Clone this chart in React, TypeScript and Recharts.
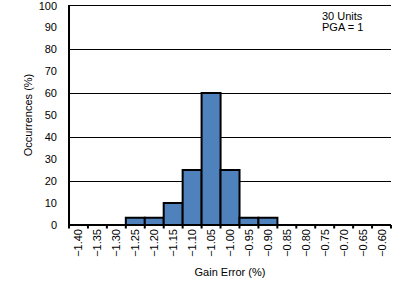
import { Bar, BarChart, CartesianGrid, XAxis, YAxis } from "recharts"

const gainError = [
  "−1.40", "−1.35", "−1.30", "−1.25", "−1.20", "−1.15", "−1.10", "−1.05", "−1.00",
  "−0.95", "−0.90", "−0.85", "−0.80", "−0.75", "−0.70", "−0.65", "−0.60",
]
const occurrences = [0, 0, 0, 3.33, 3.33, 10, 25, 60, 25, 3.33, 3.33, 0, 0, 0, 0, 0, 0]
const yTicks = [0, 10, 20, 30, 40, 50, 60, 70, 80, 90, 100]

const data = gainError.map((bin, i) => ({ bin, pct: occurrences[i] }))

const W = 406
const H = 281
const margin = { top: 5, right: 15, bottom: 0, left: 0 }
const yAxisWidth = 69
const band = (W - margin.left - margin.right - yAxisWidth) / gainError.length
const font = "'Liberation Sans', Arial, Helvetica, sans-serif"

function BinTick(props: any) {
  const { x, y, payload, index } = props
  const half = band / 2
  const tx = x + 4
  const ty = y + 4
  return (
    <g>
      <line x1={x - half} x2={x - half} y1={y} y2={y + 3.5} stroke="#000" strokeWidth={2} />
      {index === gainError.length - 1 && (
        <line x1={x + half} x2={x + half} y1={y} y2={y + 3.5} stroke="#000" strokeWidth={2} />
      )}
      <text
        x={tx}
        y={ty}
        transform={`rotate(-90, ${tx}, ${ty})`}
        textAnchor="end"
        fontSize={11}
        fill="#000"
      >
        {payload.value}
      </text>
    </g>
  )
}

export default function App() {
  return (
    <div style={{ position: "absolute", left: 0, top: 0, width: W, height: H, background: "#fff" }}>
      <BarChart
        width={W}
        height={H}
        data={data}
        margin={margin}
        barCategoryGap={0}
        style={{ fontFamily: font }}
      >
        <CartesianGrid vertical={false} stroke="#000" strokeWidth={1} shapeRendering="crispEdges" />
        <XAxis
          dataKey="bin"
          interval={0}
          height={56}
          tickSize={0}
          tickMargin={0}
          tickLine={false}
          axisLine={{ stroke: "#000", strokeWidth: 2 }}
          tick={<BinTick />}
          label={{ value: "Gain Error (%)", position: "insideBottom", offset: 5, fill: "#000", fontSize: 11 }}
        />
        <XAxis xAxisId="top" orientation="top" height={0} tick={false} tickLine={false} axisLine={{ stroke: "#000", strokeWidth: 2 }} />
        <YAxis
          domain={[0, 100]}
          ticks={yTicks}
          width={yAxisWidth}
          tickLine={false}
          tickMargin={6}
          axisLine={{ stroke: "#000", strokeWidth: 2 }}
          tick={{ fill: "#000", fontSize: 11 }}
          label={{ value: "Occurrences (%)", angle: -90, position: "center", dx: -6, fill: "#000", fontSize: 11 }}
        />
        <YAxis yAxisId="right" orientation="right" width={0} tick={false} tickLine={false} axisLine={{ stroke: "#000", strokeWidth: 2 }} />
        <Bar dataKey="pct" fill="#4f81bd" stroke="#000" strokeWidth={2} isAnimationActive={false} />
      </BarChart>
      <div
        style={{
          position: "absolute",
          left: 317,
          top: 11,
          width: 53,
          paddingLeft: 5,
          background: "#fff",
          fontFamily: font,
          fontSize: 11,
          lineHeight: "11px",
          color: "#000",
        }}
      >
        30 Units
        <br />
        PGA = 1
      </div>
    </div>
  )
}
